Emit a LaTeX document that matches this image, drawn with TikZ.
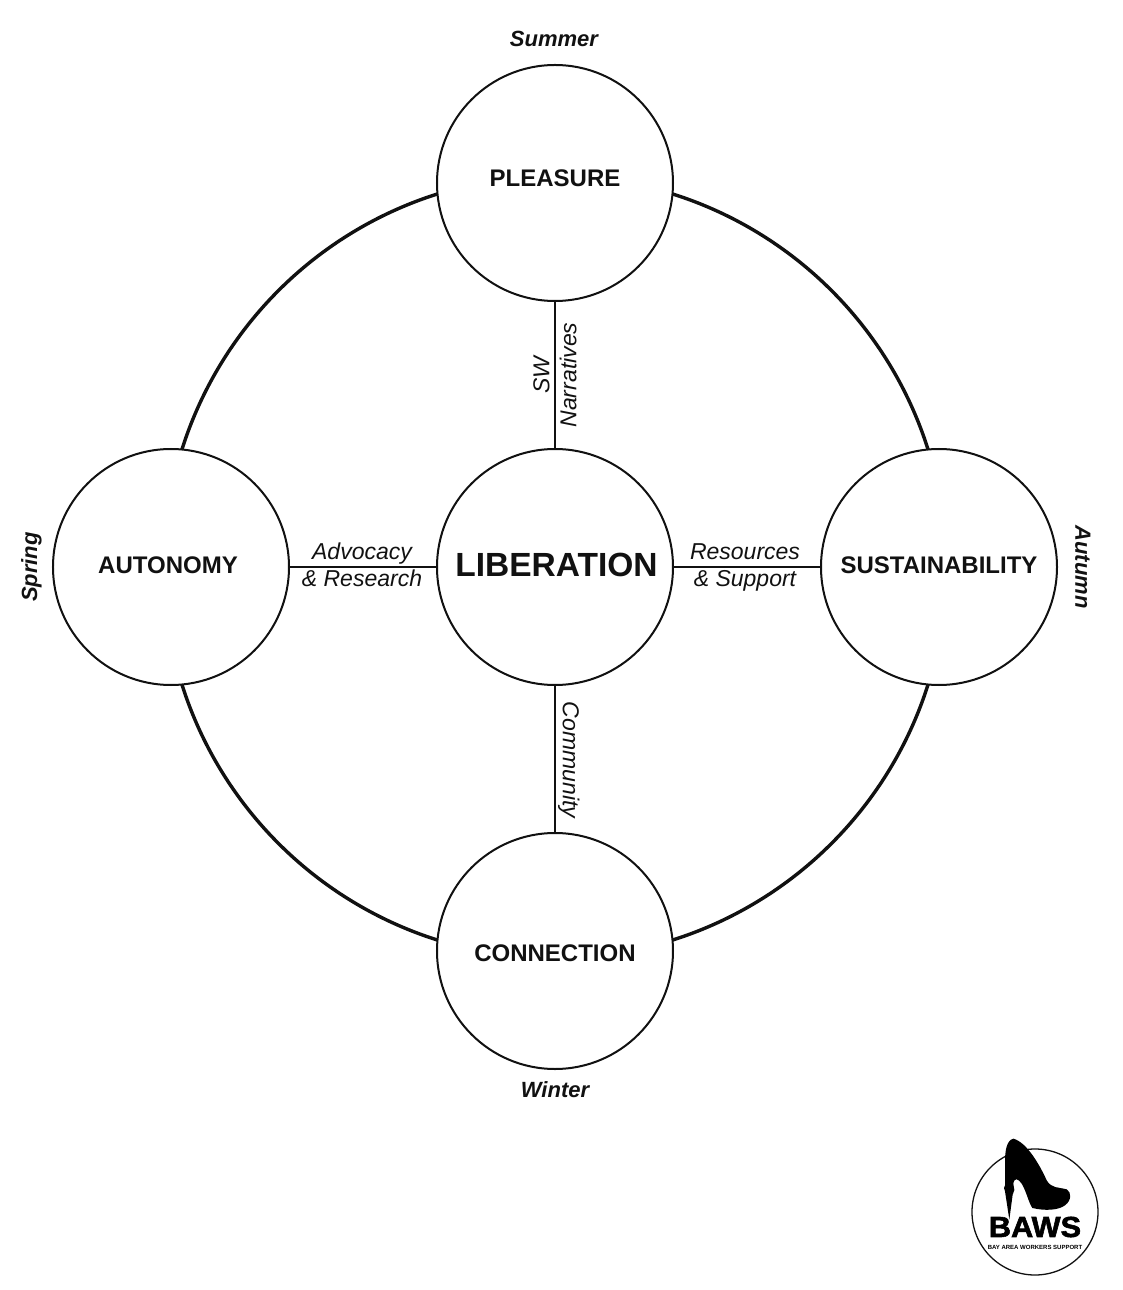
\documentclass[tikz,border=0pt]{standalone}
\usepackage{fontspec}
\setmainfont{Liberation Sans}
\newfontfamily\logofont[FakeBold=2,FakeStretch=1.06]{Liberation Sans}
\usepackage{xcolor}
\definecolor{darkText}{HTML}{111111}
\usepackage{tikz}
\usetikzlibrary{
    positioning,
    backgrounds
}
\tikzset{
    % Base style for all circles
    base circle/.style={
        circle,
        draw=darkText,
        fill=white,
        line width=2pt,
        minimum size=236pt,
        inner sep=0pt,
        text=darkText,
        align=center,
    },
    % Centre circle
    hub/.style={
        base circle,
        font=\bfseries\fontsize{33.5}{40}\selectfont,
    },
    % The four circles round it
    petal/.style={
        base circle,
        font=\bfseries\fontsize{24}{28}\selectfont,
    },
    % Outer ring
    ring/.style={
        draw=darkText,
        line width=3.4pt,
    },
    % Straight lines to the centre
    spoke/.style={
        draw=darkText,
        line width=2pt,
    },
    % Labels on the spokes
    edge label/.style={
        font=\itshape\fontsize{23}{27}\selectfont,
        text=darkText,
        align=center,
        inner sep=0pt,
    },
    % Season names
    season/.style={
        font=\bfseries\itshape\fontsize{22}{26}\selectfont,
        text=darkText,
        inner sep=0pt,
    },
}

\begin{document}
\begin{tikzpicture}[x=1pt, y=1pt, node distance=384pt]
    \useasboundingbox (-555,-723) rectangle (567,567);

    \node (liberation) [hub] {\raisebox{4pt}{\kern3pt LIBERATION}};
    \node (pleasure) [petal, above of=liberation] {\raisebox{9pt}{PLEASURE}};
    \node (autonomy) [petal, left of=liberation] {\raisebox{4pt}{\kern-6pt AUTONOMY}};
    \node (sustainability) [petal, right of=liberation] {\raisebox{4pt}{SUSTAINABILITY}};
    \node (connection) [petal, below of=liberation] {\raisebox{-10.5pt}[0pt][0pt]{CONNECTION}};

    \begin{scope}[on background layer]
        \draw [ring] (liberation.center) circle (391pt);
    \end{scope}

    \draw [spoke] (pleasure) -- node [edge label, rotate=90] {SW\\Narratives} (liberation);
    \draw [spoke] (autonomy) -- node [edge label, xshift=-1pt, yshift=2pt] {Advocacy\\\& Research} (liberation);
    \draw [spoke] (liberation) -- node [edge label, xshift=-2pt] {Resources\\\& Support} (sustainability);
    \draw [spoke] (liberation) -- node [edge label, rotate=-90, anchor=south, xshift=1pt, yshift=2pt] {Community} (connection);

    \node (summer) [season, above=17pt of pleasure, xshift=-1pt] {Summer};
    \node (winter) [season, below=11pt of connection] {Winter};
    \node (spring) [season, rotate=90, anchor=south] at ([xshift=-10pt]autonomy.west) {Spring};
    \node (autumn) [season, rotate=-90, anchor=south] at ([xshift=17pt]sustainability.east) {Autumn};

    % logo
    \node (logo) [circle, draw=darkText, line width=1.3pt, minimum size=126pt, inner sep=0pt] at (480,-645) {};
    \begin{scope}[shift={(logo.center)}, x=0.3333pt, y=-0.3333pt]
        \fill [black] (-65,-220) .. controls (-85,-215) and (-90,-185) .. (-90,-150)
            -- (-90,-80) -- (-93,-72) -- (-90,-62) -- (-77,23) -- (-67,-52) -- (-62,-66) -- (-65,-85)
            .. controls (-62,-105) and (-50,-100) .. (-40,-85)
            .. controls (-25,-60) and (-20,-30) .. (-8,-12)
            .. controls (30,-3) and (70,-5) .. (90,-20)
            .. controls (110,-35) and (110,-60) .. (95,-68)
            .. controls (70,-75) and (50,-70) .. (35,-95)
            .. controls (15,-140) and (-25,-210) .. (-65,-220) -- cycle;
    \end{scope}
    \node (baws) [text=black, inner sep=0pt, font=\logofont\bfseries\fontsize{29}{29}\selectfont] at (480,-660) {BAWS};
    \node (bawssub) [text=black, inner sep=0pt, font=\bfseries\fontsize{6}{7}\selectfont, below=8pt of baws] {BAY AREA WORKERS SUPPORT};
\end{tikzpicture}
\end{document}
